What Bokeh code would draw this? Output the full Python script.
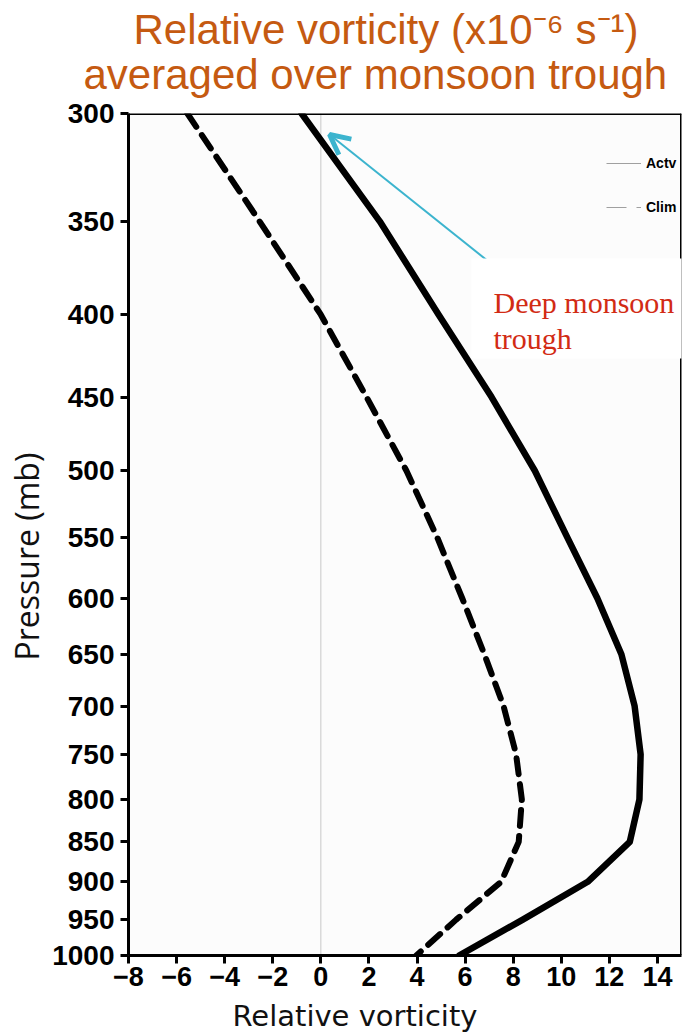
import math
from bokeh.plotting import figure
from bokeh.models import (Range1d, FixedTicker, Label, Span, Arrow, OpenHead,
                          Legend, LegendItem, BoxAnnotation, ColumnDataSource, Title)
from bokeh.embed import file_html
from bokeh.resources import INLINE

# ---------------- data ----------------
levels = [300, 350, 400, 450, 500, 550, 600, 650, 700, 750, 800, 850, 900, 950, 1000]
actv = [-0.8, 2.45, 4.9, 7.1, 8.9, 10.25, 11.5, 12.5, 13.05, 13.3, 13.25, 12.85, 11.1, 8.4, 5.75]
clim = [-5.55, -2.55, 0.0, 1.9, 3.56, 4.84, 5.88, 6.8, 7.6, 8.12, 8.36, 8.23, 7.5, 5.63, 3.97]

x_ticks = [-8, -6, -4, -2, 0, 2, 4, 6, 8, 10, 12, 14]
x_tick_labels = ["\u22128", "\u22126", "\u22124", "\u22122", "0", "2", "4", "6", "8", "10", "12", "14"]
y_ticks = [300, 350, 400, 450, 500, 550, 600, 650, 700, 750, 800, 850, 900, 950, 1000]
y_tick_labels = ["300", "350", "400", "450", "500", "550", "600", "650", "700", "750",
                 "800", "850", "900", "950", "1000"]

series_names = ["Actv", "Clim"]
title_lines = ["Relative vorticity (x10\u207b\u2076 s\u207b\u00b9)", "averaged over monsoon trough"]
x_title = "Relative vorticity"
y_title = "Pressure (mb)"
note_lines = ["Deep monsoon", "trough"]

# ---------------- layout ----------------
X0, X1 = -8, 15
P_TOP, P_BOT = 300, 1000
L, R, T, B = 127, 7, 113, 77
FW, FH = 553, 842


def dx(px):
    return X0 + (px - L) / FW * (X1 - X0)


def dy(py):
    return P_TOP * (P_BOT / P_TOP) ** ((py - T) / FH)


TICK_FONT = "Liberation Sans"

p = figure(frame_width=FW, frame_height=FH, y_axis_type="log",
           x_range=Range1d(X0, X1), y_range=Range1d(P_BOT, P_TOP),
           output_backend="svg", toolbar_location=None, title=None,
           min_border_left=L, min_border_right=R, min_border_top=T, min_border_bottom=B)
p.outline_line_color = None
p.background_fill_color = "#FCFCFC"
p.border_fill_color = "white"
p.xgrid.visible = False
p.ygrid.visible = False

for ax in (p.xaxis[0], p.yaxis[0]):
    ax.axis_line_width = 3
    ax.axis_line_color = "black"
    ax.major_tick_line_width = 3
    ax.major_tick_line_color = "black"
    ax.major_tick_out = 8
    ax.major_tick_in = 0
    ax.minor_tick_line_color = None
    ax.major_label_text_font = TICK_FONT
    ax.major_label_text_font_style = "bold"
    ax.major_label_text_color = "black"

p.xaxis[0].ticker = FixedTicker(ticks=x_ticks)
p.xaxis[0].major_label_overrides = dict(zip(x_ticks, x_tick_labels))
p.xaxis[0].major_label_text_font_size = "27px"
p.xaxis[0].major_label_standoff = 3
p.yaxis[0].ticker = FixedTicker(ticks=y_ticks)
p.yaxis[0].major_label_overrides = dict(zip(y_ticks, y_tick_labels))
p.yaxis[0].major_label_text_font_size = "28px"
p.yaxis[0].major_label_standoff = 6

# zero line
p.add_layout(Span(location=0, dimension="height", line_color="#C8C8C8", line_width=1, level="underlay"))

# data lines
src = ColumnDataSource(dict(p=levels, actv=actv, clim=clim))
p.line("actv", "p", source=src, line_color="black", line_width=6.5,
       line_join="round", line_cap="round")
p.line("clim", "p", source=src, line_color="black", line_width=6,
       line_dash="16 10", line_join="round", line_cap="round")

# legend proxies (thin grey samples as in the original key)
nan = float("nan")
l1 = p.line(x=[nan], y=[nan], line_color="#A0A0A0", line_width=1)
l2 = p.line(x=[nan], y=[nan], line_color="#A0A0A0", line_width=1, line_dash="20 10")
legend = Legend(items=[LegendItem(label=series_names[0], renderers=[l1]),
                       LegendItem(label=series_names[1], renderers=[l2])],
                location=(478, 738), orientation="vertical",
                glyph_width=35, glyph_height=20, label_height=20, spacing=24,
                padding=0, margin=0, label_standoff=5,
                background_fill_alpha=0, border_line_color=None,
                label_text_font="Liberation Sans", label_text_color="black",
                label_text_font_style="bold", label_text_font_size="14px")
p.add_layout(legend)

# frame top / right edges
p.add_layout(Span(location=P_TOP, dimension="width", line_color="black", line_width=3))
p.add_layout(Span(location=X1, dimension="height", line_color="black", line_width=3))

# arrow
ARROW = "#3CB4CE"
p.add_layout(Arrow(x_start=dx(492), y_start=dy(265), x_end=dx(328), y_end=dy(134),
                   line_color=ARROW, line_width=2,
                   end=OpenHead(size=20, line_color=ARROW, line_width=5)))

# annotation box
p.add_layout(BoxAnnotation(left=dx(470), right=dx(690), top=dy(258), bottom=dy(358),
                           fill_color="white", fill_alpha=1, line_color=None))
RED = "#D22B14"
for i, txt in enumerate(note_lines):
    p.add_layout(Label(x=dx(492), y=dy(302 + 36 * i), text=txt, text_font="Liberation Serif",
                       text_font_size="30px", text_color=RED, text_baseline="alphabetic"))

# title (two lines, stacked above the frame; first added is closest to the frame)
ORANGE = "#C55A11"
p.add_layout(Title(text=title_lines[1], align="left", offset=82 - L, text_font="Liberation Sans",
                   text_font_size="42px", text_font_style="normal", text_color=ORANGE,
                   standoff=32), "above")
p.add_layout(Title(text=title_lines[0], align="left", offset=132 - L, text_font="Liberation Sans",
                   text_font_size="42px", text_font_style="normal", text_color=ORANGE,
                   standoff=-40), "above")

# axis titles
p.add_layout(Title(text=x_title, align="left", offset=104, text_font="DejaVu Sans",
                   text_font_size="29px", text_font_style="normal", text_color="#111111",
                   standoff=16), "below")
p.add_layout(Title(text=y_title, align="left", offset=295, text_font="Open Sans",
                   text_font_size="32px", text_font_style="normal", text_color="#111111",
                   standoff=4), "left")

open("out.html", "w").write(file_html(p, INLINE))
